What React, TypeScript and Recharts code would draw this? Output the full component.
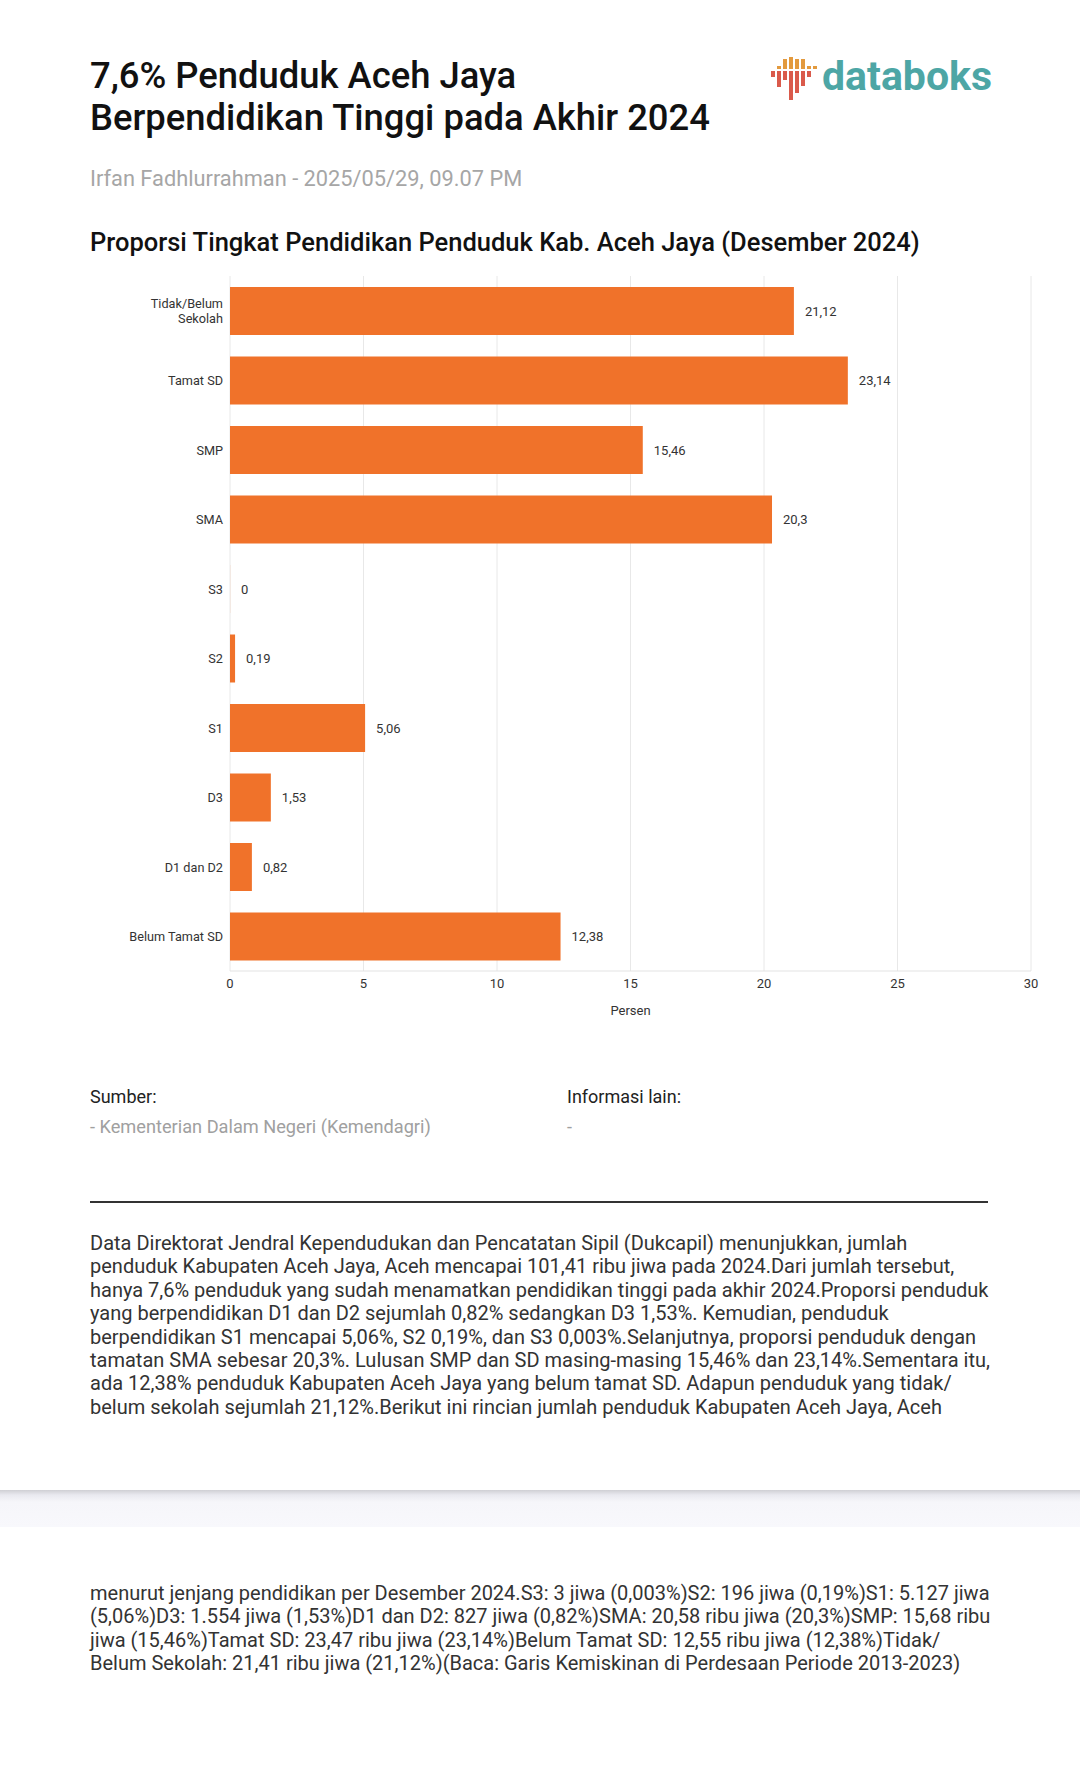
import { BarChart, Bar, XAxis, YAxis, CartesianGrid, LabelList } from "recharts";

const categories = [
  "Tidak/Belum Sekolah",
  "Tamat SD",
  "SMP",
  "SMA",
  "S3",
  "S2",
  "S1",
  "D3",
  "D1 dan D2",
  "Belum Tamat SD",
];
// S3 is 0,003% (shown as "0" after rounding to two decimals)
const values = [21.12, 23.14, 15.46, 20.3, 0.003, 0.19, 5.06, 1.53, 0.82, 12.38];
const xTicks = [0, 5, 10, 15, 20, 25, 30];

const para1 = [
  "Data Direktorat Jendral Kependudukan dan Pencatatan Sipil (Dukcapil) menunjukkan, jumlah",
  "penduduk Kabupaten Aceh Jaya, Aceh mencapai 101,41 ribu jiwa pada 2024.Dari jumlah tersebut,",
  "hanya 7,6% penduduk yang sudah menamatkan pendidikan tinggi pada akhir 2024.Proporsi penduduk",
  "yang berpendidikan D1 dan D2 sejumlah 0,82% sedangkan D3 1,53%. Kemudian, penduduk",
  "berpendidikan S1 mencapai 5,06%, S2 0,19%, dan S3 0,003%.Selanjutnya, proporsi penduduk dengan",
  "tamatan SMA sebesar 20,3%. Lulusan SMP dan SD masing-masing 15,46% dan 23,14%.Sementara itu,",
  "ada 12,38% penduduk Kabupaten Aceh Jaya yang belum tamat SD. Adapun penduduk yang tidak/",
  "belum sekolah sejumlah 21,12%.Berikut ini rincian jumlah penduduk Kabupaten Aceh Jaya, Aceh",
];

const para2 = [
  "menurut jenjang pendidikan per Desember 2024.S3: 3 jiwa (0,003%)S2: 196 jiwa (0,19%)S1: 5.127 jiwa",
  "(5,06%)D3: 1.554 jiwa (1,53%)D1 dan D2: 827 jiwa (0,82%)SMA: 20,58 ribu jiwa (20,3%)SMP: 15,68 ribu",
  "jiwa (15,46%)Tamat SD: 23,47 ribu jiwa (23,14%)Belum Tamat SD: 12,55 ribu jiwa (12,38%)Tidak/",
  "Belum Sekolah: 21,41 ribu jiwa (21,12%)(Baca: Garis Kemiskinan di Perdesaan Periode 2013-2023)",
];

const data = categories.map((name, i) => ({ name, value: values[i] }));

// two decimals, decimal comma
const fmt = (v: any) => String(Number(Number(v).toFixed(2))).replace(".", ",");

function CategoryTick(props: any) {
  const { x, y, payload } = props;
  const label: string = payload.value;
  const cut = label.indexOf(" ");
  const lines = label.length > 15 ? [label.slice(0, cut), label.slice(cut + 1)] : [label];
  const lh = 15;
  return (
    <text x={x} y={y} textAnchor="end" fill="#333" fontSize={12.7} dominantBaseline="central">
      {lines.map((l, i) => (
        <tspan key={i} x={x} y={y + (i - (lines.length - 1) / 2) * lh}>
          {l}
        </tspan>
      ))}
    </text>
  );
}

function ValueLabel(props: any) {
  const { x, y, width, height, value } = props;
  return (
    <text
      x={Number(x) + Number(width) + 11}
      y={Number(y) + Number(height) / 2}
      fill="#333"
      fontSize={13}
      dominantBaseline="central"
      textAnchor="start"
    >
      {fmt(value)}
    </text>
  );
}

function Logo() {
  const orange = "#E39A3E";
  const red = "#DA5A4B";
  const mid = 71;
  // [x, orangeTop, redBottom]
  const bars = [
    [771, null, 77],
    [777, 66, 87],
    [783, 59, 80],
    [789, 57, 100],
    [795, 59, 93],
    [801, 59, 86],
    [807, 66, 77],
    [813, 66, null],
  ];
  return (
    <div style={{ position: "absolute", left: 0, top: 0 }}>
      <svg width={830} height={110} style={{ position: "absolute", left: 0, top: 0 }}>
        {bars.map((b, i) => (
          <g key={i}>
            {b[1] !== null && <rect x={b[0] as number} y={b[1] as number} width={4} height={mid - 2 - (b[1] as number)} fill={orange} />}
            {b[2] !== null && <rect x={b[0] as number} y={mid} width={4} height={(b[2] as number) - mid} fill={red} />}
          </g>
        ))}
      </svg>
      <div
        style={{
          position: "absolute",
          left: 822,
          top: 52,
          fontSize: 41,
          fontWeight: 700,
          color: "#4DA6A5",
          lineHeight: "48px",
          whiteSpace: "nowrap",
        }}
      >
        databoks
      </div>
    </div>
  );
}

export default function App() {
  return (
    <div
      style={{
        position: "relative",
        width: 1080,
        height: 1776,
        background: "#fff",
        overflow: "hidden",
        fontFamily: "Roboto, sans-serif",
        color: "#222",
      }}
    >
      <style>{"body{margin:0}"}</style>
      <div style={{ position: "absolute", left: 90, top: 55, fontSize: 36.4, fontWeight: 500, lineHeight: "42px", color: "#111", whiteSpace: "nowrap" }}>
        <div>7,6% Penduduk Aceh Jaya</div>
        <div>Berpendidikan Tinggi pada Akhir 2024</div>
      </div>
      <Logo />
      <div style={{ position: "absolute", left: 90, top: 166, fontSize: 21.8, lineHeight: "26px", color: "#a6a6a6", whiteSpace: "nowrap" }}>
        Irfan Fadhlurrahman - 2025/05/29, 09.07 PM
      </div>
      <div style={{ position: "absolute", left: 90, top: 227, fontSize: 25.5, fontWeight: 500, lineHeight: "30px", color: "#111", whiteSpace: "nowrap" }}>
        Proporsi Tingkat Pendidikan Penduduk Kab. Aceh Jaya (Desember 2024)
      </div>

      <div style={{ position: "absolute", left: 0, top: 250 }}>
        <BarChart
          width={1080}
          height={771}
          data={data}
          layout="vertical"
          margin={{ top: 26, right: 49, bottom: 0, left: 0 }}
        >
          <CartesianGrid horizontal={false} stroke="#e8e8e8" />
          <XAxis
            type="number"
            domain={[0, 30]}
            ticks={xTicks}
            tickLine={false}
            axisLine={{ stroke: "#e3e3e3" }}
            tick={{ fill: "#333", fontSize: 13 }}
            height={50}
            label={{ value: "Persen", position: "insideBottom", offset: 6, fill: "#333", fontSize: 13 }}
          />
          <YAxis
            type="category"
            dataKey="name"
            width={230}
            axisLine={false}
            tickLine={false}
            tickMargin={1}
            tick={(p: any) => <CategoryTick {...p} />}
          />
          <Bar dataKey="value" fill="#F0722A" barSize={48} isAnimationActive={false}>
            <LabelList dataKey="value" content={(p: any) => <ValueLabel {...p} />} />
          </Bar>
        </BarChart>
      </div>

      <div style={{ position: "absolute", left: 90, top: 1086, fontSize: 18, lineHeight: "22px", color: "#222" }}>Sumber:</div>
      <div style={{ position: "absolute", left: 90, top: 1116, fontSize: 18.2, lineHeight: "22px", color: "#a0a0a0" }}>
        - Kementerian Dalam Negeri (Kemendagri)
      </div>
      <div style={{ position: "absolute", left: 567, top: 1086, fontSize: 18, lineHeight: "22px", color: "#222" }}>Informasi lain:</div>
      <div style={{ position: "absolute", left: 567, top: 1116, fontSize: 18, lineHeight: "22px", color: "#a0a0a0" }}>-</div>

      <div style={{ position: "absolute", left: 90, top: 1201, width: 898, height: 2, background: "#333" }} />

      <div style={{ position: "absolute", left: 90, top: 1232, fontSize: 20, lineHeight: "23.4px", color: "#333", whiteSpace: "nowrap" }}>
        {para1.map((l, i) => (
          <div key={i}>{l}</div>
        ))}
      </div>

      <div
        style={{
          position: "absolute",
          left: 0,
          top: 1490,
          width: 1080,
          height: 37,
          background: "linear-gradient(#cfcfd4 0px, #e9e9ef 5px, #f6f6fa 12px, #f8f8fc 100%)",
        }}
      />

      <div style={{ position: "absolute", left: 90, top: 1582, fontSize: 20, lineHeight: "23.4px", color: "#333", whiteSpace: "nowrap" }}>
        {para2.map((l, i) => (
          <div key={i}>{l}</div>
        ))}
      </div>
    </div>
  );
}
